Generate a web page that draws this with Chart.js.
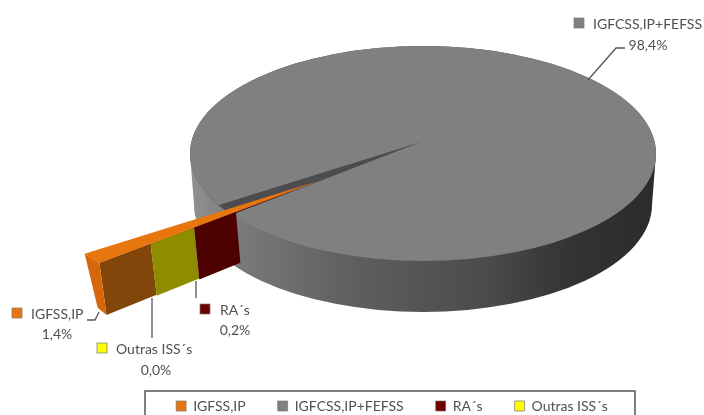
<!DOCTYPE html>
<html>
<head>
<meta charset="utf-8">
<style>
  html, body { margin: 0; padding: 0; background: #fff; overflow: hidden; }
  canvas { display: block; }
</style>
<script src="https://cdn.jsdelivr.net/npm/chart.js@4/dist/chart.umd.min.js"></script>
</head>
<body>
<canvas id="pieChart" width="704" height="415"></canvas>
<script>
// Data
const categories = ['IGFSS,IP', 'IGFCSS,IP+FEFSS', 'RA´s', 'Outras ISS´s'];
const shares = [1.4, 98.4, 0.2, 0.0];

// Colors
const sliceColors = ['#e8760f', '#808080', '#6e0000', '#ffff00'];
const textColor = '#505050';
const lineColor = '#555555';

// --- 3D look: the pie is squashed and given a side wall ---
const squashY = 0.46;
const rimCenter = { x: 423, y: 153.5, rx: 233, ry: 107.5 };
const baseCenter = { x: 423, y: 205, rx: 229, ry: 107 };
const mainTip = { x: 421, y: 142, radius: 340 };
const smallTip = { x: 318, y: 181, radius: 282 };
const depth = 52;

// distance along the pulled out slice where the wall changes color
const wallStops = [282, 216, 160, 106];
const wallColors = ['#83460a', '#908c00', '#4d0000'];

// text labels beside the pie, same order as categories
const labelBoxes = [
    { boxX: 12, boxY: 308, textX: 31, textY: 314, valueX: 57, valueY: 334 },
    { boxX: 574, boxY: 18, textX: 593, textY: 24, valueX: 648, valueY: 45 },
    { boxX: 200, boxY: 304, textX: 220, textY: 310, valueX: 235, valueY: 330 },
    { boxX: 97, boxY: 343, textX: 116, textY: 349, valueX: 156, valueY: 370 }
];
const leaderLines = [
    [[87, 320], [95, 320], [99, 312]],
    [[588, 80], [616, 48], [625, 48]],
    [[196, 281], [196, 298]],
    [[152, 298], [152, 338]]
];
const legendFrame = { left: 145, top: 391, right: 635, bottom: 420 };

function formatShare(v) {
    return v.toFixed(1).replace('.', ',') + '%';
}

function ellipsePath(ctx, e) {
    ctx.beginPath();
    ctx.ellipse(e.x, e.y, e.rx, e.ry, 0, 0, Math.PI * 2);
}

// Point on the pulled out slice
function slicePoint(angle, dist) {
    return {
        x: smallTip.x + Math.cos(angle) * dist,
        y: smallTip.y + Math.sin(angle) * dist * squashY
    };
}

function drawSide(ctx) {
    const grad = ctx.createLinearGradient(190, 0, 656, 0);
    grad.addColorStop(0, '#929292');
    grad.addColorStop(0.1, '#7a7a7a');
    grad.addColorStop(0.35, '#5f5f5f');
    grad.addColorStop(0.65, '#4a4a4a');
    grad.addColorStop(0.82, '#333333');
    grad.addColorStop(1, '#2b2b2b');
    ctx.fillStyle = grad;
    ellipsePath(ctx, baseCenter);
    ctx.fill();
    ctx.beginPath();
    ctx.moveTo(rimCenter.x - rimCenter.rx, rimCenter.y);
    ctx.lineTo(rimCenter.x + rimCenter.rx, rimCenter.y);
    ctx.lineTo(baseCenter.x + baseCenter.rx, baseCenter.y);
    ctx.lineTo(baseCenter.x - baseCenter.rx, baseCenter.y);
    ctx.closePath();
    ctx.fill();
    // dark inside of the gap shows through where the main slice stops
    ctx.fillStyle = '#4c4c50';
    ellipsePath(ctx, rimCenter);
    ctx.fill();
}

function drawArc(ctx, arc, tip, clip) {
    ctx.save();
    if (clip) {
        ellipsePath(ctx, rimCenter);
        ctx.clip();
    }
    const k = tip.radius / arc.outerRadius;
    ctx.translate(tip.x, tip.y);
    ctx.scale(k, k * squashY);
    ctx.translate(-arc.x, -arc.y);
    arc.draw(ctx);
    ctx.restore();
}

function drawWall(ctx, arc) {
    const a = arc.startAngle;
    wallColors.forEach((color, i) => {
        const p0 = slicePoint(a, wallStops[i]);
        const p1 = slicePoint(a, wallStops[i + 1]);
        const s0 = 3 + wallStops[i] / wallStops[0] * 4;
        const s1 = 3 + wallStops[i + 1] / wallStops[0] * 4;
        ctx.fillStyle = color;
        ctx.beginPath();
        ctx.moveTo(p0.x, p0.y);
        ctx.lineTo(p1.x, p1.y);
        ctx.lineTo(p1.x + s1, p1.y + depth - 1);
        ctx.lineTo(p0.x + s0, p0.y + depth);
        ctx.closePath();
        ctx.fill();
    });
}

function drawCap(ctx, arc) {
    const p0 = slicePoint(arc.startAngle, wallStops[0]);
    const p1 = slicePoint(arc.endAngle, wallStops[0]);
    ctx.fillStyle = '#d7670c';
    ctx.beginPath();
    ctx.moveTo(p0.x, p0.y);
    ctx.lineTo(p1.x, p1.y);
    ctx.lineTo(p1.x + 13, p1.y + depth + 2);
    ctx.lineTo(p0.x + 7, p0.y + depth);
    ctx.closePath();
    ctx.fill();
}

const pie3d = {
    id: 'pie3d',
    afterLayout(chart) {
        // put the legend inside its frame, wide enough that it stays on one row
        const legend = chart.legend;
        legend.left = 80;
        legend.right = 704;
        legend.top = legendFrame.top - 24;
    },
    beforeDraw(chart) {
        const ctx = chart.ctx;
        ctx.save();
        ctx.strokeStyle = '#555555';
        ctx.lineWidth = 1.5;
        ctx.strokeRect(legendFrame.left, legendFrame.top,
            legendFrame.right - legendFrame.left, legendFrame.bottom - legendFrame.top);
        ctx.restore();
    },
    beforeDatasetDraw(chart) {
        const ctx = chart.ctx;
        const arcs = chart.getDatasetMeta(0).data;
        drawSide(ctx);
        drawArc(ctx, arcs[1], mainTip, true);
        drawArc(ctx, arcs[2], smallTip, false);
        drawWall(ctx, arcs[0]);
        drawCap(ctx, arcs[0]);
        drawArc(ctx, arcs[3], smallTip, false);
        drawArc(ctx, arcs[0], smallTip, false);
        return false;
    },
    afterDatasetsDraw(chart) {
        const ctx = chart.ctx;
        ctx.save();
        ctx.strokeStyle = lineColor;
        ctx.lineWidth = 1.3;
        leaderLines.forEach(line => {
            ctx.beginPath();
            line.forEach((p, i) => i ? ctx.lineTo(p[0], p[1]) : ctx.moveTo(p[0], p[1]));
            ctx.stroke();
        });
        ctx.font = '14px Lato';
        ctx.textBaseline = 'middle';
        categories.forEach((name, i) => {
            const b = labelBoxes[i];
            ctx.fillStyle = sliceColors[i];
            ctx.fillRect(b.boxX, b.boxY, 10, 10);
            ctx.strokeStyle = '#777777';
            ctx.lineWidth = 0.7;
            ctx.strokeRect(b.boxX, b.boxY, 10, 10);
            ctx.fillStyle = textColor;
            ctx.textAlign = 'left';
            ctx.fillText(name, b.textX, b.textY);
            ctx.textAlign = 'center';
            ctx.fillText(formatShare(shares[i]), b.valueX, b.valueY);
        });
        ctx.restore();
    }
};

new Chart(document.getElementById('pieChart').getContext('2d'), {
    type: 'pie',
    data: {
        labels: categories,
        datasets: [{
            data: shares,
            backgroundColor: sliceColors,
            borderWidth: 0
        }]
    },
    options: {
        responsive: false,
        animation: false,
        events: [],
        rotation: 230.8,
        plugins: {
            tooltip: { enabled: false },
            legend: {
                position: 'bottom',
                labels: {
                    boxWidth: 10,
                    boxHeight: 10,
                    padding: 32,
                    color: textColor,
                    font: { family: 'Lato', size: 14 },
                    generateLabels(chart) {
                        const items = Chart.overrides.pie.plugins.legend.labels.generateLabels(chart);
                        items.forEach(item => {
                            item.strokeStyle = '#777777';
                            item.lineWidth = 0.7;
                        });
                        return items;
                    }
                }
            }
        }
    },
    plugins: [pie3d]
});
</script>
</body>
</html>
